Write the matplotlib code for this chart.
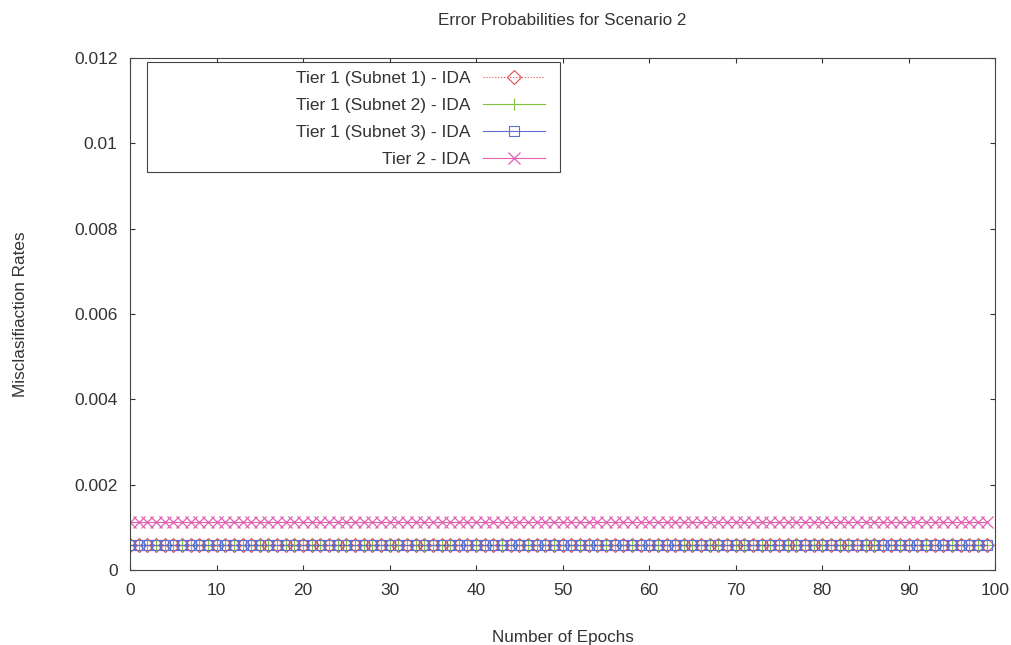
import matplotlib
matplotlib.use("Agg")
import matplotlib.pyplot as plt
from matplotlib.patches import Rectangle

plt.rcParams['font.family'] = ['Liberation Sans', 'DejaVu Sans']

epochs = list(range(0, 100))
subnet1 = [0.00058] * 100
subnet2 = [0.00058] * 100
subnet3 = [0.00058] * 100
tier2 = [0.00112] * 100

labels = ["Tier 1 (Subnet 1) - IDA", "Tier 1 (Subnet 2) - IDA",
          "Tier 1 (Subnet 3) - IDA", "Tier 2 - IDA"]

fig = plt.figure(figsize=(10.12, 6.45), dpi=100)
ax = fig.add_axes([0.1285, 0.116, 0.855, 0.794])

ax.plot(epochs, subnet1, color='#e05050', linestyle=':', linewidth=0.8,
        marker='D', markersize=7, fillstyle='none', markeredgewidth=0.8, label=labels[0])
ax.plot(epochs, subnet2, color='#80c040', linestyle='-', linewidth=0.8,
        marker='+', markersize=9, markeredgewidth=0.8, label=labels[1])
ax.plot(epochs, subnet3, color='#6070d0', linestyle='-', linewidth=0.8,
        marker='s', markersize=7, fillstyle='none', markeredgewidth=0.8, label=labels[2])
ax.plot(epochs, tier2, color='#e060b0', linestyle='-', linewidth=0.8,
        marker='x', markersize=8, markeredgewidth=0.9, label=labels[3])

ax.set_xlim(0, 100)
ax.set_ylim(0, 0.012)
ax.set_xticks(range(0, 101, 10))
ax.set_yticks([0, 0.002, 0.004, 0.006, 0.008, 0.01, 0.012])
ax.set_yticklabels(['0', '0.002', '0.004', '0.006', '0.008', '0.01', '0.012'])
ax.tick_params(direction='in', top=True, right=True, labelsize=12.5, colors='#333333', pad=9)
for s in ax.spines.values():
    s.set_color('#444444')
    s.set_linewidth(0.8)

ax.set_title("Error Probabilities for Scenario 2", fontsize=12.3, color='#333333', pad=24)
ax.set_xlabel("Number of Epochs", fontsize=12.3, color='#333333', labelpad=23)
ax.set_ylabel("Misclasifiaction Rates", fontsize=12.3, color='#333333', labelpad=33)

# legend frame like gnuplot key box
ax.add_patch(Rectangle((0.0197, 0.777), 0.4773, 0.215, transform=ax.transAxes,
                       fill=True, facecolor='white', edgecolor='#444444',
                       linewidth=0.8, zorder=4))
leg = ax.legend(loc='upper right', bbox_to_anchor=(0.484, 0.982), markerfirst=False,
                fontsize=12.5, frameon=False, borderpad=0.2,
                handlelength=3.6, labelspacing=0.68, handletextpad=0.7, borderaxespad=0)
leg.set_zorder(5)
for t in leg.get_texts():
    t.set_color('#333333')

fig.savefig("out.png", dpi=100)
